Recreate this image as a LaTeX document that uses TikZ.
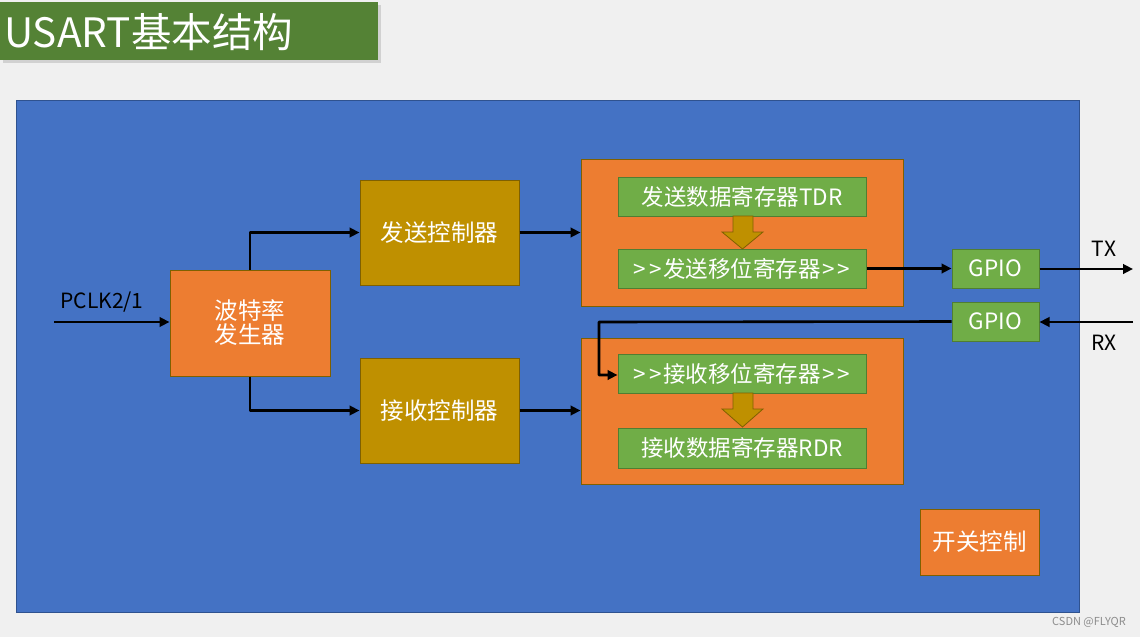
\documentclass[tikz,border=0pt]{standalone}
\usepackage{fontspec}
\setmainfont{Noto Sans CJK SC}
\usetikzlibrary{arrows.meta}
\definecolor{bgc}{HTML}{F0F0F0}
\definecolor{titleg}{HTML}{548235}
\definecolor{blu}{HTML}{4472C4}
\definecolor{bluedge}{HTML}{2F528F}
\definecolor{org}{HTML}{ED7D31}
\definecolor{gold}{HTML}{BF9000}
\definecolor{goldedge}{HTML}{7F6000}
\definecolor{grn}{HTML}{70AD47}
\definecolor{grnedge}{HTML}{507E32}
\tikzset{
  blk/.style={draw=goldedge,line width=1pt,text=white,align=center,inner sep=0pt,font=\fontsize{23.5}{28}\selectfont},
  orgbox/.style={blk,fill=org},
  goldbox/.style={blk,fill=gold},
  grnbox/.style={draw=grnedge,fill=grn,line width=1pt,text=white,inner sep=0pt,font=\fontsize{22.5}{26}\selectfont},
  conn/.style={line width=2.6pt,-{Triangle[length=10pt,width=9.5pt]},line join=round},
  fatarrow/.style={draw=goldedge,fill=gold,line width=0.8pt,line join=miter},
  lbl/.style={text=black,font=\fontsize{21}{24}\selectfont,inner sep=0pt}
}
\newcommand{\dblgt}{\kern1.5pt{>}\kern3pt{>}\kern1.5pt}
\begin{document}
\begin{tikzpicture}[x=1pt,y=-1pt]
\useasboundingbox (0,0) rectangle (1140,637);
\fill[bgc] (0,0) rectangle (1140,637);
% title
\fill[black!18] (3,5) rectangle (381,63);
\node[fill=titleg,minimum width=378pt,minimum height=58pt,inner sep=0pt,anchor=north west] (title) at (0,2) {};
\node[text=white,font=\fontsize{40.5}{44}\selectfont,anchor=west,inner sep=0pt] (titletext) at (4,32) {USART基本结构};
% main
\node[draw=bluedge,fill=blu,line width=1pt,minimum width=1063pt,minimum height=512pt,inner sep=0pt,anchor=north west] (main) at (16,100) {};
% baud
\node[orgbox,minimum width=160pt,minimum height=106pt] (baud) at (250,323) {波特率\\[-4pt]发生器};
\node[goldbox,minimum width=159pt,minimum height=105pt] (txc) at (439.5,232.5) {发送控制器};
\node[goldbox,minimum width=159pt,minimum height=105pt] (rxc) at (439.5,410.5) {接收控制器};
% outer
\node[orgbox,minimum width=322pt,minimum height=147pt] (txo) at (742,232.5) {};
\node[orgbox,minimum width=322pt,minimum height=146pt] (rxo) at (742,411) {};
\node[grnbox,minimum width=248pt,minimum height=39pt] (tdr) at (742,196.5) {发送数据寄存器TDR};
\node[grnbox,minimum width=248pt,minimum height=39pt] (tsh) at (742,268.5) {\dblgt 发送移位寄存器\dblgt};
\node[grnbox,minimum width=248pt,minimum height=39pt] (rsh) at (742,373.5) {\dblgt 接收移位寄存器\dblgt};
\node[grnbox,minimum width=248pt,minimum height=40pt] (rdr) at (742,448) {接收数据寄存器RDR};
% block arrows
\draw[fatarrow] (733,216) -- (753,216) -- (753,232) -- (763,232) -- (742.5,249) -- (722,232) -- (733,232) -- cycle;
\draw[fatarrow] (733,393) -- (753,393) -- (753,409) -- (763,409) -- (742.5,427) -- (722,409) -- (733,409) -- cycle;
% gpio
\node[grnbox,minimum width=87pt,minimum height=39pt] (gtx) at (995.5,268.5) {GPIO};
\node[grnbox,minimum width=87pt,minimum height=39pt] (grx) at (995.5,321.5) {GPIO};
% switch
\node[orgbox,minimum width=119pt,minimum height=66pt] (sw) at (979.5,542) {开关控制};
% coordinates
\coordinate (pin) at (54,322);
\coordinate (txout) at (1133,269);
\coordinate (rxin) at (1133,322);
% connectors
\draw[conn] (pin) -- (baud.west |- pin);
\node[lbl] (pclk) at (102,302) {PCLK2/1};
\draw[conn] (baud.north) |- (txc.west);
\draw[conn] (baud.south) |- (rxc.west);
\draw[conn] (txc.east) -- (txo.west |- txc.east);
\draw[conn] (rxc.east) -- (rxo.west |- rxc.east);
\draw[conn] (tsh.east) -- (gtx.west);
\draw[conn] (gtx.east |- txout) -- (txout);
\draw[conn] (rxin) -- (grx.east |- rxin);
\draw[conn] (grx.west) -- (599,322) -- (599,375) -- (rsh.west |- 0,375);
\node[lbl] (txl) at (1104,249) {TX};
\node[lbl] (rxl) at (1104,343) {RX};
% watermark
\node[text=black!45,font=\fontsize{11}{12}\selectfont,inner sep=0pt] (wm) at (1089,622) {CSDN @FLYQR};
\end{tikzpicture}
\end{document}
